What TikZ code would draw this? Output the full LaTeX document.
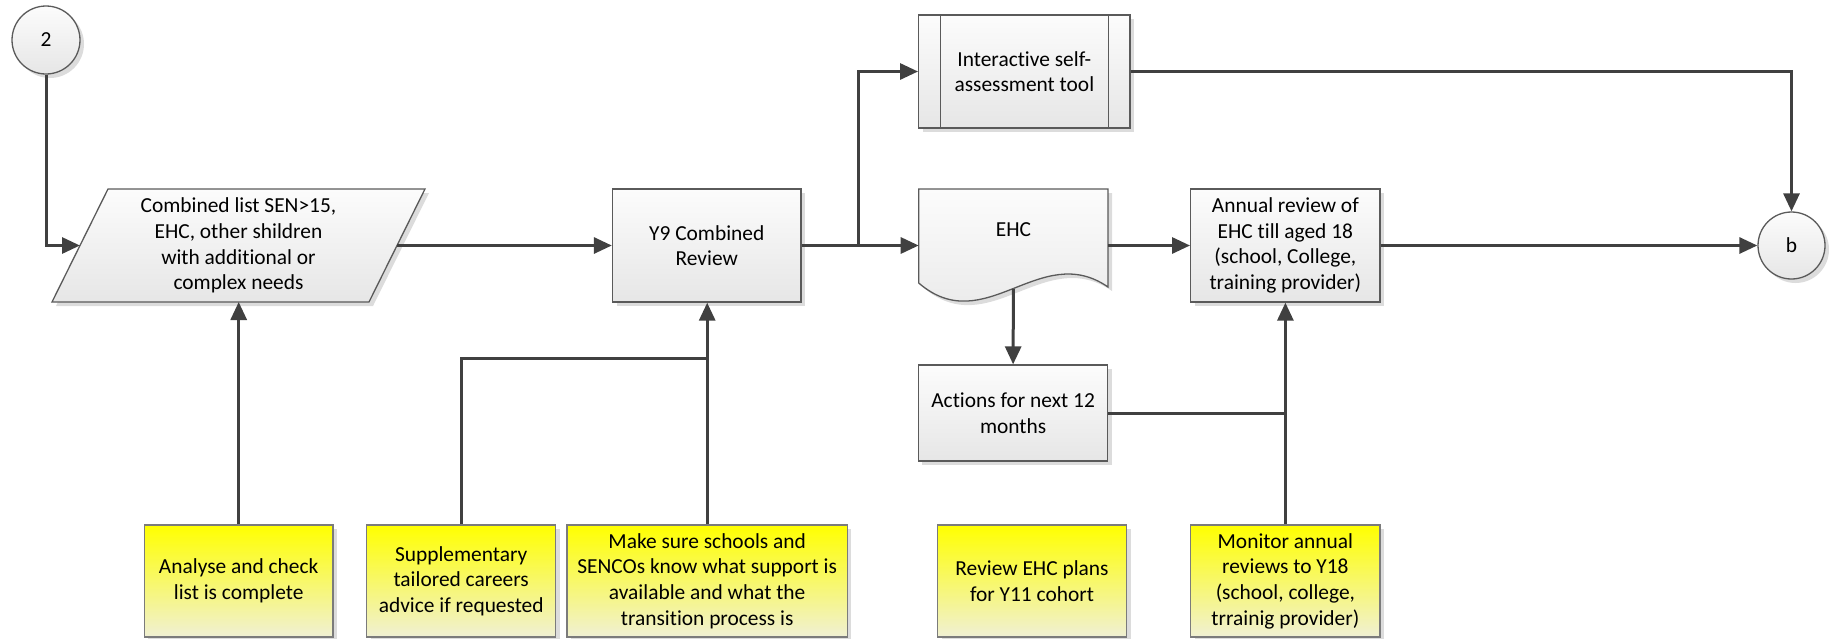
\documentclass[tikz,border=0pt]{standalone}
\usepackage{fontspec}
\setmainfont{Carlito}[Ligatures=NoCommon]
\usetikzlibrary{arrows.meta,shadows}
\definecolor{linecol}{HTML}{404040}
\definecolor{bordercol}{HTML}{5A5A5A}
\definecolor{boxtop}{HTML}{FCFCFC}
\definecolor{boxbot}{HTML}{E6E6E6}
\definecolor{yeltop}{HTML}{FFFF00}
\definecolor{yelbot}{HTML}{F0F0D4}
\definecolor{shadowcol}{HTML}{DCDCDC}
\tikzset{
  txt/.style={font=\fontsize{21.4}{25.7}\selectfont, align=center, inner sep=0pt},
  shd/.style={drop shadow={shadow xshift=4pt, shadow yshift=-4pt, fill=shadowcol, opacity=1}},
  graybox/.style={rectangle, txt, draw=bordercol, line width=1.3pt, top color=boxtop, bottom color=boxbot, shd},
  yelbox/.style={rectangle, txt, draw=bordercol!80, line width=1.3pt, top color=yeltop, bottom color=yelbot, shd,
                 minimum height=112pt},
  conn/.style={draw=linecol, line width=3pt},
  arr/.style={conn, -{Triangle[length=18pt,width=16pt]}},
}
\begin{document}
\begin{tikzpicture}[x=1pt,y=-1pt]
\useasboundingbox (0,0) rectangle (1829,638);

% start connector
\node[graybox, circle, minimum size=68pt] (c2) at (46,40) {2};

% parallelogram
\path[shd, draw=bordercol, line width=1.3pt, top color=boxtop, bottom color=boxbot]
  (108,189) -- (425,189) -- (369,302) -- (52,302) -- cycle;
\node[txt] (list) at (238.5,245.5) {Combined list SEN>15,\\EHC, other shildren\\with additional or\\complex needs};
\coordinate (listW) at (80,245.5);
\coordinate (listE) at (397,245.5);
\coordinate (listS) at (238.5,302);

\node[graybox, minimum width=188.5pt, minimum height=113pt] (y9) at (706.75,245.5) {Y9 Combined\\Review};

\node[graybox, minimum width=211.3pt, minimum height=113pt] (self) at (1024.35,71.5) {Interactive self-\\assessment tool};
\draw[bordercol, line width=1.3pt] ([xshift=22.5pt]self.north west) -- ([xshift=22.5pt]self.south west);
\draw[bordercol, line width=1.3pt] ([xshift=-22.5pt]self.north east) -- ([xshift=-22.5pt]self.south east);

% document shape
\path[shd, draw=bordercol, line width=1.3pt, top color=boxtop, bottom color=boxbot]
  (918.7,189) -- (1108,189) -- (1108,287) .. controls (1040,240) and (985,340) .. (918.7,283) -- cycle;
\node[txt] (ehc) at (1013.4,230) {EHC};
\coordinate (ehcW) at (918.7,245.5);
\coordinate (ehcE) at (1108,245.5);
\coordinate (ehcS) at (1013.4,289);

\node[graybox, minimum width=189.3pt, minimum height=113pt] (annual) at (1285.35,245.5) {Annual review of\\EHC till aged 18\\(school, College,\\training provider)};

\node[graybox, circle, minimum size=67pt] (b) at (1791.5,245.5) {b};

\node[graybox, minimum width=189.4pt, minimum height=96pt] (actions) at (1013.1,413) {Actions for next 12\\months};

% yellow boxes
\node[yelbox, minimum width=188.6pt] (analyse) at (238.7,581) {Analyse and check\\list is complete};
\node[yelbox, minimum width=188.8pt] (supp) at (461.2,581) {Supplementary\\tailored careers\\advice if requested};
\node[yelbox, minimum width=280.4pt] (make) at (707.2,581) {Make sure schools and\\SENCOs know what support is\\available and what the\\transition process is};
\node[yelbox, minimum width=189pt] (review) at (1032,581) {Review EHC plans\\for Y11 cohort};
\node[yelbox, minimum width=189.2pt] (monitor) at (1285.4,581) {Monitor annual\\reviews to Y18\\(school, college,\\trrainig provider)};

% connectors
\coordinate (br) at (858,245.5);
\coordinate (sj) at (706.75,358.7);
\draw[arr] (c2.south) |- (listW);
\draw[arr] (listE) -- (y9.west);
\draw[arr] (y9.east) -- (ehcW);
\draw[arr] (br) |- (self.west);
\draw[arr] (ehcE) -- (annual.west);
\draw[arr] (self.east) -| (b.north);
\draw[arr] (annual.east) -- (b.west);
\draw[arr] (ehcS) -- (actions.north);
\draw[conn] (actions.east) -- (annual.south |- actions.east);
\draw[arr] (monitor.north) -- (monitor.north |- annual.south);
\draw[arr] (analyse.north) -- (analyse.north |- listS);
\draw[arr] (make.north) -- (make.north |- y9.south);
\draw[conn] (supp.north) |- (sj);
\end{tikzpicture}
\end{document}
